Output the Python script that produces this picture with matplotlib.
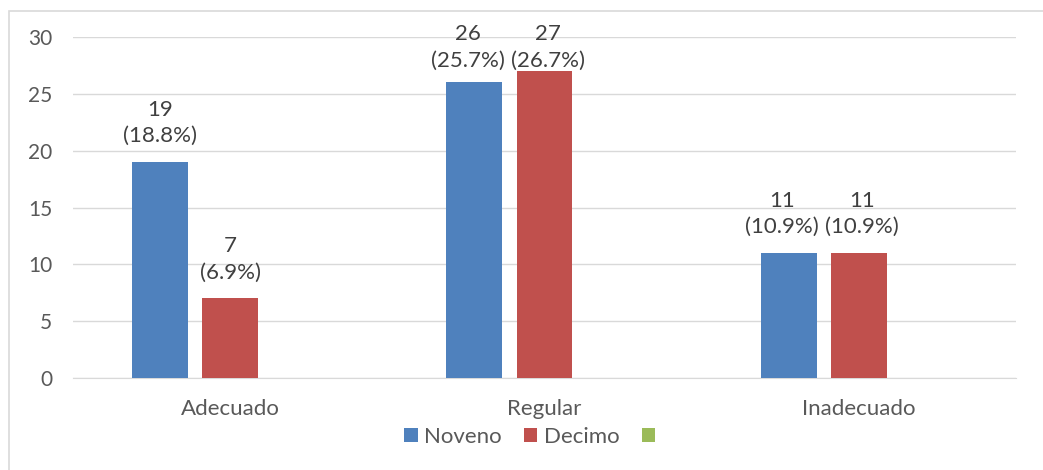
import numpy as np
import matplotlib
matplotlib.use('Agg')
from matplotlib import pyplot as plt
from matplotlib.patches import Rectangle

categories = ['Adecuado', 'Regular', 'Inadecuado']
noveno = [19, 26, 11]
decimo = [7, 27, 11]
noveno_pct = [18.8, 25.7, 10.9]
decimo_pct = [6.9, 26.7, 10.9]

blue = '#4F81BD'
red = '#C0504D'
green = '#9BBB59'
text_col = '#595959'

plt.rcParams['font.family'] = ['Lato', 'DejaVu Sans']

fig = plt.figure(figsize=(10.43, 4.70), dpi=100)
ax = fig.add_axes([73 / 1043, 1 - 378 / 470, 943 / 1043, 341 / 470])

x = np.arange(len(categories))
w = 0.178
step = 0.223
b1 = ax.bar(x - step, noveno, w, color=blue, label='Noveno', zorder=3)
b2 = ax.bar(x, decimo, w, color=red, label='Decimo', zorder=3)
# third (empty) series still takes its slot
ax.bar(x + step, [0, 0, 0], w, color=green, label=' ', zorder=3)

# labels sit above the bar, but get pushed down near the top like excel does
lab_gap = 3.43
lab_max = 29.08
for i in range(len(categories)):
    y1 = min(noveno[i] + lab_gap, lab_max)
    y2 = min(decimo[i] + lab_gap, lab_max)
    # neighbouring labels at the same height get nudged apart
    dx1, dx2 = (-5, 2.5) if abs(y1 - y2) < 4 else (0, 0)
    for rect, v, p, yy, dx in ((b1[i], noveno[i], noveno_pct[i], y1, dx1),
                               (b2[i], decimo[i], decimo_pct[i], y2, dx2)):
        ax.annotate(f'{v}\n({p}%)', (rect.get_x() + rect.get_width() / 2, yy),
                    xytext=(dx, 0), textcoords='offset points',
                    ha='center', va='center', fontsize=16, color='#404040',
                    linespacing=1.4, annotation_clip=False)

ax.set_xlim(-0.5, 2.5)
ax.set_ylim(0, 30)
ax.set_yticks(range(0, 31, 5))
ax.set_xticks(x)
ax.set_xticklabels(categories)
ax.tick_params(axis='both', length=0, labelsize=16, colors=text_col)
ax.tick_params(axis='y', labelsize=15, pad=15)
ax.tick_params(axis='x', pad=15)
ax.grid(axis='y', color='#D9D9D9', lw=1, zorder=0)
for s in ['top', 'right', 'left']:
    ax.spines[s].set_visible(False)
ax.spines['bottom'].set_color('#D9D9D9')

leg = fig.legend(loc='center', bbox_to_anchor=(536 / 1043, 1 - 437 / 470), ncol=3, frameon=False,
                 fontsize=16, handlelength=0.6, handleheight=0.6, handletextpad=0.3,
                 columnspacing=1.0)
for t in leg.get_texts():
    t.set_color(text_col)

fig.patches.append(Rectangle((9 / 1043, -0.1), 1.2, 1 - 11 / 470 + 0.1, transform=fig.transFigure,
                             fill=False, edgecolor='#D9D9D9', lw=1.2))

fig.savefig('out.png', dpi=100)
